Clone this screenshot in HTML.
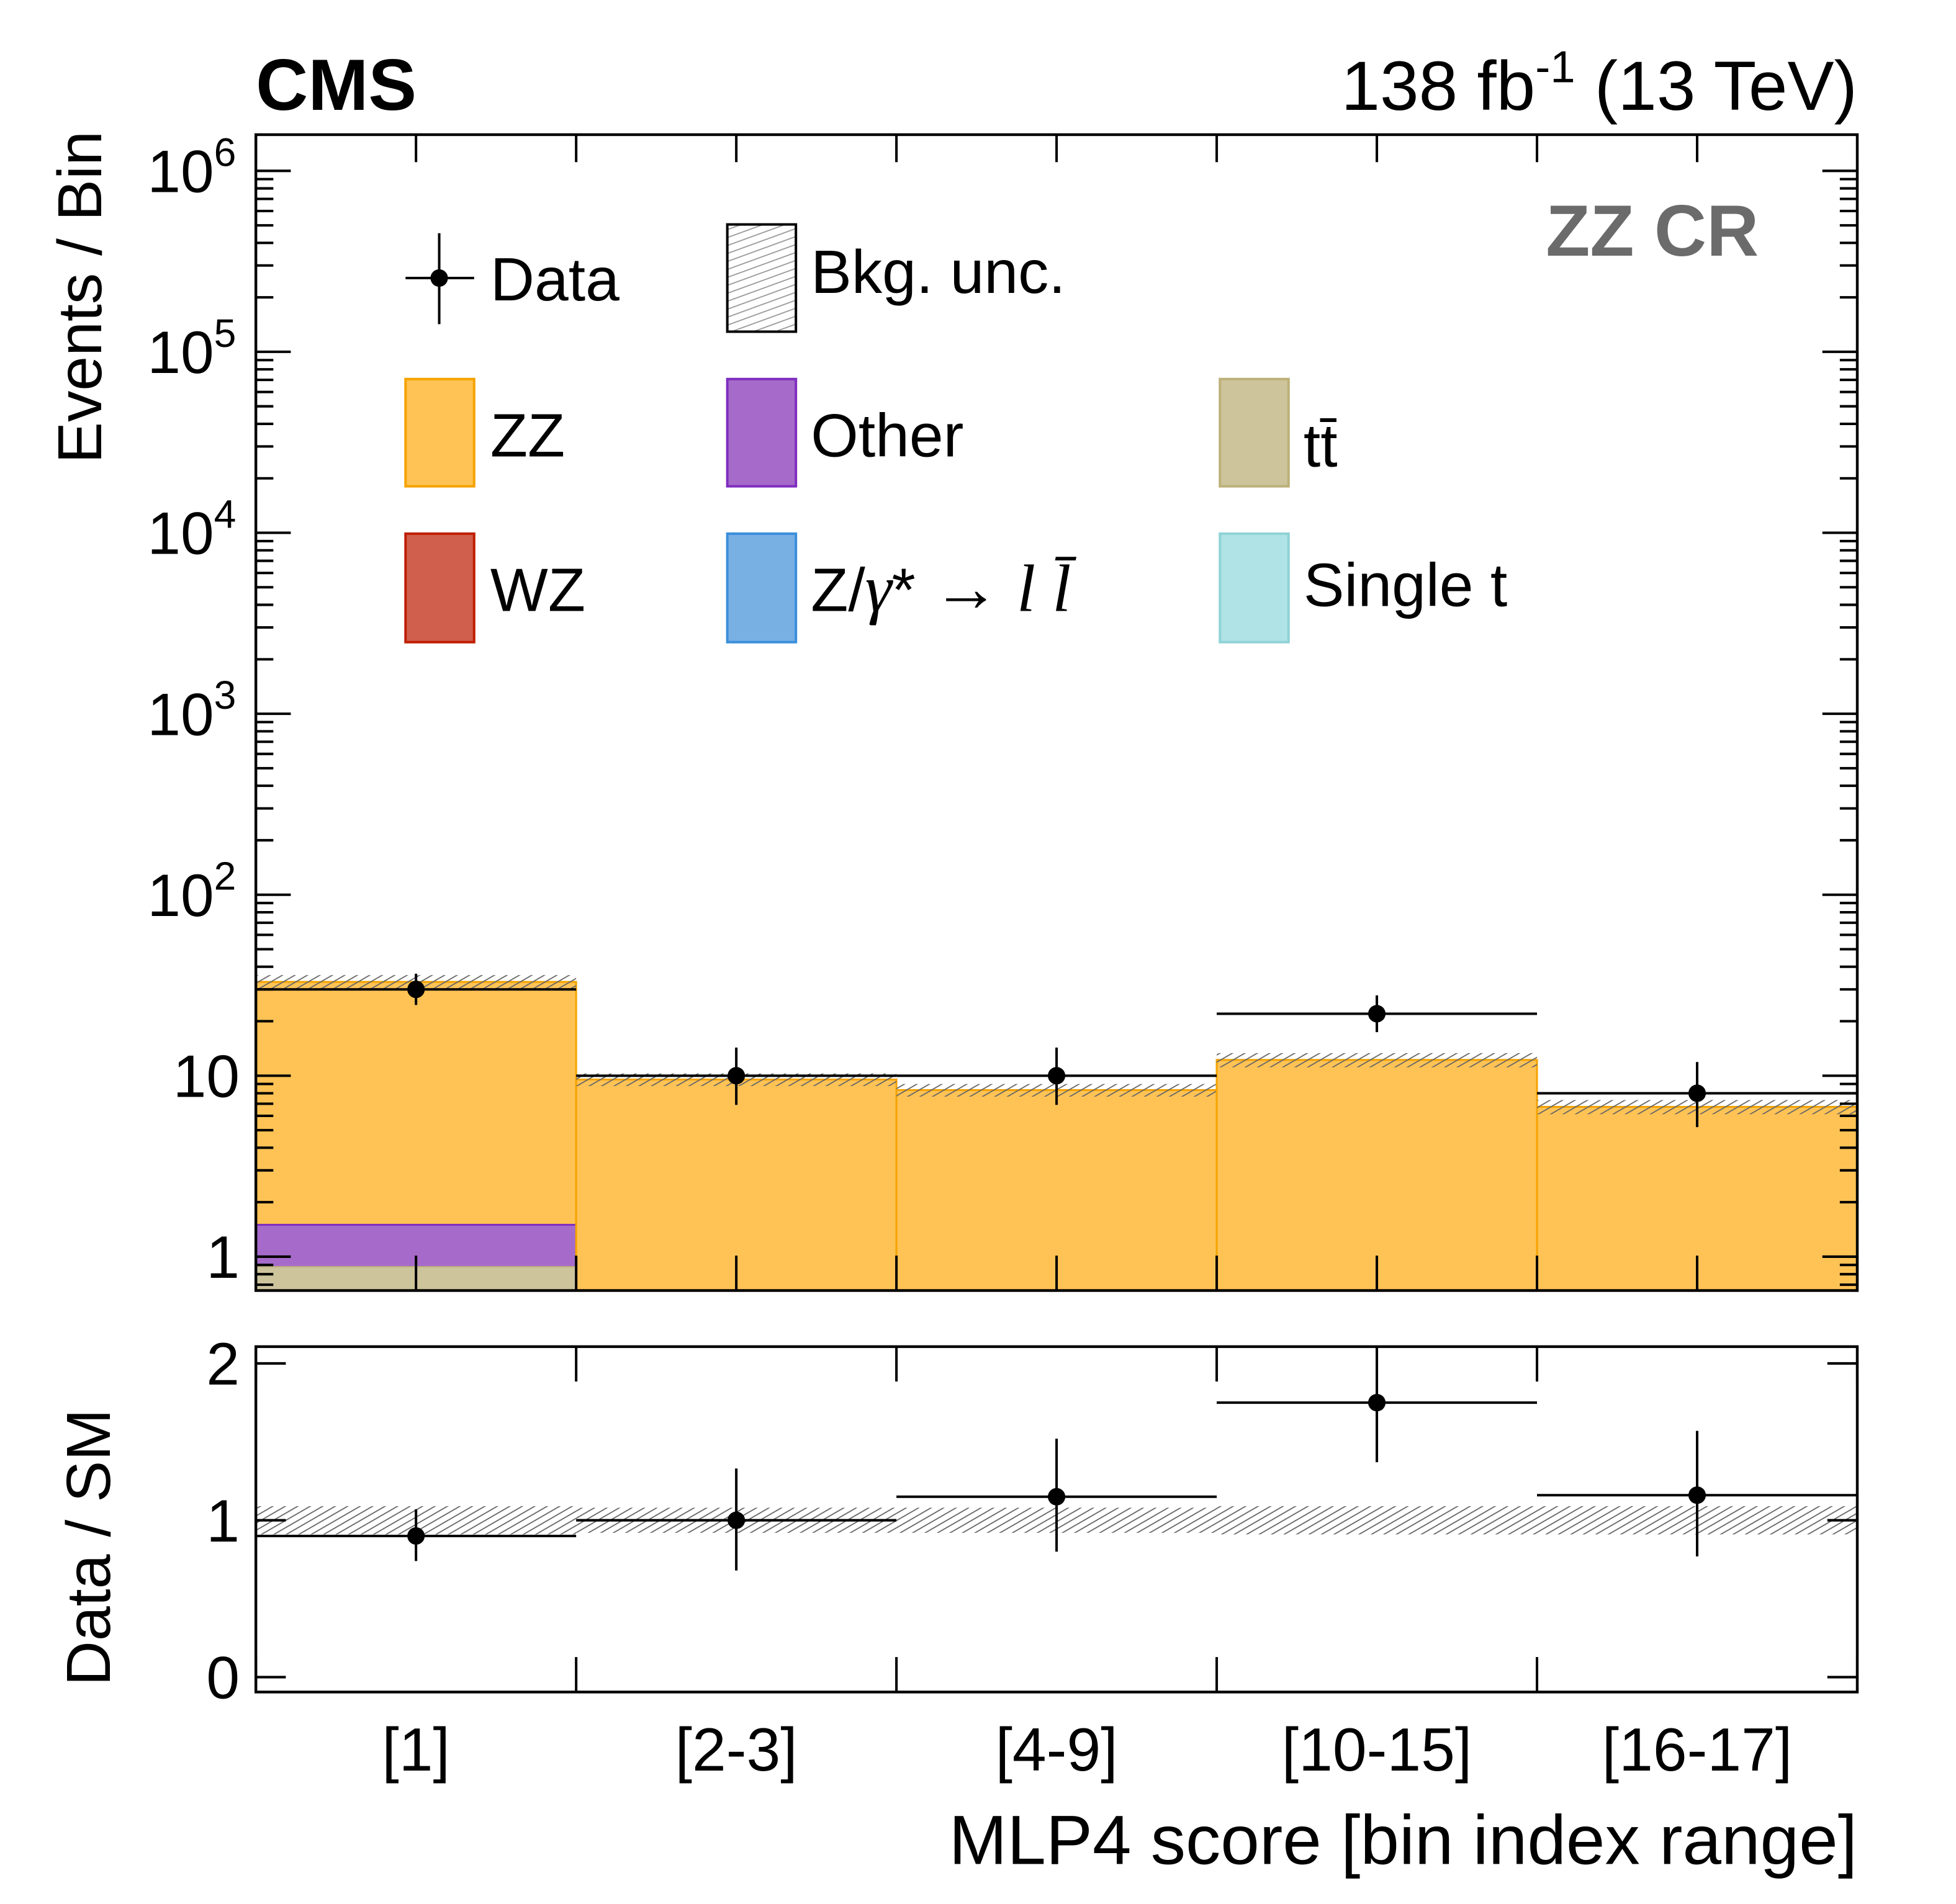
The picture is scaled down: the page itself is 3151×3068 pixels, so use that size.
<!DOCTYPE html>
<html><head><meta charset="utf-8"><style>
html,body{margin:0;padding:0;background:#fff;}
svg{display:block;font-family:"Liberation Sans",Arial,sans-serif;}
</style></head><body>
<svg id="chart" width="3151" height="3068" viewBox="0 0 1568 1527" xmlns="http://www.w3.org/2000/svg">
<defs>
<pattern id="hatch" patternUnits="userSpaceOnUse" width="5" height="5" patternTransform="rotate(60)">
<rect width="5" height="5" fill="none"/><line x1="0" y1="0" x2="0" y2="5" stroke="#666" stroke-width="1.8"/>
</pattern>
<pattern id="hatchleg" patternUnits="userSpaceOnUse" width="6" height="6" patternTransform="rotate(70)">
<line x1="0" y1="0" x2="0" y2="6" stroke="#999" stroke-width="1.8"/>
</pattern>
</defs>
<g id="layer"></g>
</svg>
<script>
const categories = ["[1]", "[2-3]", "[4-9]", "[10-15]", "[16-17]"];
const zzValues = [31.5, 9.5, 8.3, 12.2, 6.7];
const otherValues = [0.62, 0.02, 0.02, 0.02, 0.02];
const ttValues = [0.88, 0.01, 0.01, 0.01, 0.01];
const bkgUncFrac = [0.09, 0.08, 0.08, 0.09, 0.09];
const dataValues = [30, 10, 10, 22, 8];
const dataErrLo = [5.4, 3.1, 3.1, 4.6, 2.8];
const dataErrHi = [6.6, 4.3, 4.3, 5.8, 3.9];
const ratioValues = [0.9, 1.0, 1.15, 1.75, 1.16];
const ratioErrLo = [0.16, 0.32, 0.35, 0.38, 0.39];
const ratioErrHi = [0.17, 0.33, 0.37, 0.40, 0.41];
const logTickLabels = ["1", "10", "10^2", "10^3", "10^4", "10^5", "10^6"];
const ratioTickLabels = ["0", "1", "2"];

const NS = "http://www.w3.org/2000/svg";
const L = 205, R = 1489, T1 = 108, B1 = 1035, T2 = 1080, B2 = 1357;
const yMinLog = Math.log10(0.65), yMaxLog = 6.2;
function yTop(v){ const lv = Math.log10(Math.max(v, 1e-3)); const y = B1 - (lv - yMinLog) / (yMaxLog - yMinLog) * (B1 - T1); return Math.max(T1, Math.min(B1, y)); }
function yRat(v){ const y = B2 - (v + 0.095) / (2.107 + 0.095) * (B2 - T2); return Math.max(T2, Math.min(B2, y)); }
const bw = (R - L) / categories.length;
function xb(i){ return L + i * bw; }
const layer = document.getElementById('layer');
function mk(tag, attrs, parent){ const e = document.createElementNS(NS, tag); for (const k in attrs) e.setAttribute(k, attrs[k]); (parent || layer).appendChild(e); return e; }
function txt(s, attrs, parent){ const e = mk('text', attrs, parent); e.textContent = s; return e; }

const defs = document.querySelector('defs');
const cp = mk('clipPath', {id:'c1'}, defs); mk('rect', {x:L, y:T1, width:R-L, height:B1-T1}, cp);
const cp2 = mk('clipPath', {id:'c2'}, defs); mk('rect', {x:L, y:T2, width:R-L, height:B2-T2}, cp2);
const g1 = mk('g', {'clip-path':'url(#c1)'});


const g2 = mk('g', {'clip-path':'url(#c2)'});



for (let i = 0; i < categories.length; i++) {
  const tt = ttValues[i], ot = tt + otherValues[i], tot = ot + zzValues[i];
  const x0 = xb(i);
  const rz = mk('rect', {x:x0, y:yTop(tot), width:bw, height:B1-yTop(tot), fill:'#ffc355', stroke:'#f5a300', 'stroke-width':1.5}, g1);
  
  
  const ro = mk('rect', {x:x0, y:yTop(ot), width:bw, height:B1-yTop(ot), fill:'#a66bca', stroke:'#7f2dbf', 'stroke-width':1.5}, g1);
  
  
  const rt = mk('rect', {x:x0, y:yTop(tt), width:bw, height:B1-yTop(tt), fill:'#cdc49c', stroke:'#bdb079', 'stroke-width':1}, g1);
  
  
  const u = bkgUncFrac[i];
  const hy1 = yTop(tot*(1+u)), hy2 = yTop(tot*(1-u));
  const hb = mk('rect', {x:x0, y:hy1, width:bw, height:hy2-hy1, fill:'url(#hatch)'}, g1);
  
  
  const rb = mk('rect', {x:x0, y:yRat(1+u), width:bw, height:yRat(1-u)-yRat(1+u), fill:'url(#hatch)'}, g2);
  
  
}
for (let i = 0; i < categories.length; i++) {
  const cx = (xb(i) + xb(i+1)) / 2, y = yTop(dataValues[i]);
  const gd = mk('g', {stroke:'#000', 'stroke-width':2}, g1);
  
  
  mk('line', {x1:xb(i), x2:xb(i+1), y1:y, y2:y}, gd);
  mk('line', {x1:cx, x2:cx, y1:yTop(dataValues[i]+dataErrHi[i]), y2:yTop(dataValues[i]-dataErrLo[i])}, gd);
  mk('circle', {cx:cx, cy:y, r:7, fill:'#000', stroke:'none'}, gd);
  const yr = yRat(ratioValues[i]);
  const gr = mk('g', {stroke:'#000', 'stroke-width':2}, g2);
  
  
  mk('line', {x1:xb(i), x2:xb(i+1), y1:yr, y2:yr}, gr);
  mk('line', {x1:cx, x2:cx, y1:yRat(ratioValues[i]+ratioErrHi[i]), y2:yRat(ratioValues[i]-ratioErrLo[i])}, gr);
  mk('circle', {cx:cx, cy:yr, r:7, fill:'#000', stroke:'none'}, gr);
}

const f1 = mk('rect', {x:L, y:T1, width:R-L, height:B1-T1, fill:'none', stroke:'#000', 'stroke-width':2.2});


const f2 = mk('rect', {x:L, y:T2, width:R-L, height:B2-T2, fill:'none', stroke:'#000', 'stroke-width':2.2});



const tg = mk('g', {stroke:'#000', 'stroke-width':2});


for (let d = 0; d <= 6; d++) {
  for (let m = 1; m <= 9; m++) {
    const v = m * Math.pow(10, d);
    if (Math.log10(v) > yMaxLog) continue;
    const y = yTop(v), len = m === 1 ? 28 : 14;
    mk('line', {x1:L, x2:L+len, y1:y, y2:y}, tg);
    mk('line', {x1:R, x2:R-len, y1:y, y2:y}, tg);
  }
}
for (const m of [0.7, 0.8, 0.9]) { const y = yTop(m); mk('line', {x1:L, x2:L+14, y1:y, y2:y}, tg); mk('line', {x1:R, x2:R-14, y1:y, y2:y}, tg); }
for (let k = 0; k <= 10; k++) {
  const x = L + k * bw / 2;
  mk('line', {x1:x, x2:x, y1:B1, y2:B1-28}, tg);
  mk('line', {x1:x, x2:x, y1:T1, y2:T1+22}, tg);
  if (k % 2 === 0) { mk('line', {x1:x, x2:x, y1:B2, y2:B2-28}, tg); mk('line', {x1:x, x2:x, y1:T2, y2:T2+28}, tg); }
}
for (let v = 0; v <= 2; v++) { const y = yRat(v); mk('line', {x1:L, x2:L+24, y1:y, y2:y}, tg); mk('line', {x1:R, x2:R-24, y1:y, y2:y}, tg); }

logTickLabels.forEach((s, d) => {
  const y = yTop(Math.pow(10, d)) + 17;
  const parts = s.split('^');
  const t = txt('', {x:192, y:y, 'font-size':48, 'text-anchor':'end'});
  
  
  if (parts.length > 1) {
    t.setAttribute('x', 118); t.setAttribute('text-anchor', 'start');
    const a = mk('tspan', {}, t); a.textContent = parts[0];
    const b = mk('tspan', {dy:-21, 'font-size':32}, t); b.textContent = parts[1];
  } else t.textContent = s;
});
ratioTickLabels.forEach((s, v) => {
  const t = txt(s, {x:192, y:yRat(v) + 17, 'font-size':48, 'text-anchor':'end'});
  
  
});
categories.forEach((s, i) => {
  const t = txt(s, {x:(xb(i)+xb(i+1))/2, y:1420, 'font-size':49, 'text-anchor':'middle'});
  
  
});
</script>
<script>
(function(){
const svg = document.getElementById('chart');
svg.insertAdjacentHTML('beforeend', `
<text x="205" y="88" font-size="58" font-weight="bold">CMS</text>
<text x="1489" y="88" font-size="56" text-anchor="end">138 fb<tspan dy="-22" font-size="36">-1</tspan><tspan dy="22"> (13 TeV)</tspan></text>
<text x="1410" y="205" font-size="58" font-weight="bold" fill="#6b6b6b" text-anchor="end">ZZ CR</text>
<text transform="translate(81,105) rotate(-90)" font-size="50" text-anchor="end">Events / Bin</text>
<text transform="translate(88,1241) rotate(-90)" font-size="50" text-anchor="middle">Data / SM</text>
<text x="1489" y="1495" font-size="56" text-anchor="end">MLP4 score [bin index range]</text>
<g font-size="49">
 <g>
  <line x1="325" x2="380" y1="223" y2="223" stroke="#000" stroke-width="2"/>
  <line x1="352" x2="352" y1="187" y2="260" stroke="#000" stroke-width="2"/>
  <circle cx="352" cy="223" r="7"/>
  <text x="393" y="241">Data</text>
 </g>
 <g>
  <rect x="583" y="180" width="55" height="86" fill="url(#hatchleg)" stroke="#000" stroke-width="2"/>
  <text x="650" y="235">Bkg. unc.</text>
 </g>
 <g>
  <rect x="325" y="304" width="55" height="86" fill="#ffc355" stroke="#f5a300" stroke-width="2"/>
  <text x="393" y="366">ZZ</text>
 </g>
 <g>
  <rect x="583" y="304" width="55" height="86" fill="#a66bca" stroke="#7f2dbf" stroke-width="2"/>
  <text x="650" y="366">Other</text>
 </g>
 <g>
  <rect x="978" y="304" width="55" height="86" fill="#cdc49c" stroke="#bdb079" stroke-width="2"/>
  <text x="1045" y="374">tt̄</text>
 </g>
 <g>
  <rect x="325" y="428" width="55" height="87" fill="#d0604d" stroke="#bf1e00" stroke-width="2"/>
  <text x="393" y="490">WZ</text>
 </g>
 <g>
  <rect x="583" y="428" width="55" height="87" fill="#79b0e4" stroke="#3a8fdb" stroke-width="2"/>
  <text x="650" y="490">Z/<tspan font-family="Liberation Serif" font-style="italic" font-size="54">γ</tspan>* <tspan font-family="Liberation Serif" font-size="54">→</tspan> <tspan font-family="Liberation Serif" font-style="italic" font-size="54">l l̄</tspan></text>
 </g>
 <g>
  <rect x="978" y="428" width="55" height="87" fill="#afe3e5" stroke="#8fd3d6" stroke-width="2"/>
  <text x="1045" y="486">Single t</text>
 </g>
</g>`);
})();
</script>
</body></html>
